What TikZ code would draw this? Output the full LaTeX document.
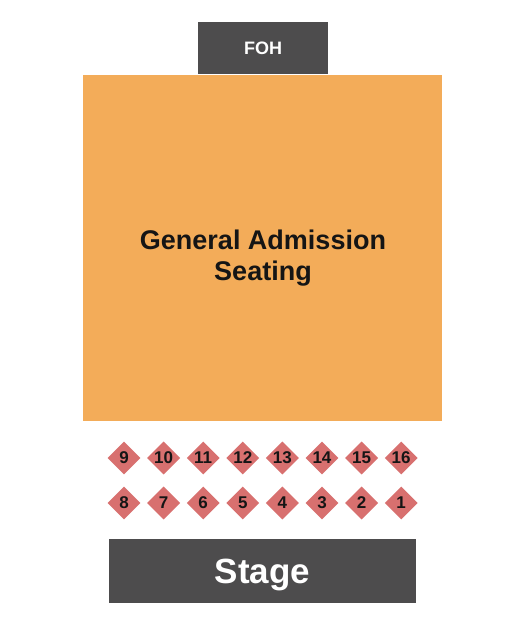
\documentclass[tikz,border=0pt]{standalone}
\usepackage{fontspec}
\setmainfont{Liberation Sans}[BoldFont={Liberation Sans Bold}]
\usetikzlibrary{shapes.geometric}
\definecolor{gaorange}{HTML}{F3AC59}
\definecolor{darkbox}{HTML}{4D4C4D}
\definecolor{seatred}{HTML}{D8706F}
\definecolor{txt}{HTML}{151515}
\tikzset{
  darkrect/.style={fill=darkbox, draw=none, text=white, font=\bfseries, inner sep=0pt},
  seat/.style={diamond, fill=seatred, draw=none, minimum width=33pt, minimum height=33pt, inner sep=0pt, text=txt, font=\fontsize{17}{17}\selectfont\bfseries},
}
\begin{document}
\begin{tikzpicture}[x=1pt,y=-1pt]
\useasboundingbox (0,0) rectangle (525,625);
\fill[white] (0,0) rectangle (525,625);
% FOH
\node[darkrect, minimum width=130pt, minimum height=52pt, text height=13pt, text depth=0pt, font=\fontsize{18}{18}\selectfont\bfseries] (foh) at (263,48) {FOH};
% GA
\node[fill=gaorange, minimum width=359pt, minimum height=346pt, inner sep=0pt] (ga) at (262.5,247.5) {};
\node[align=center, text=txt, inner sep=0pt, font=\fontsize{27}{31}\selectfont\bfseries] (galabel) at (263,258.5) {General Admission\\Seating};
% seats
\foreach \n/\x in {9/124,10/163.6,11/203.2,12/242.8,13/282.4,14/322,15/361.6,16/401.2}{
  \node[seat] (s\n) at (\x,458) {\n};
}
\foreach \n/\x in {8/124,7/163.6,6/203.2,5/242.8,4/282.4,3/322,2/361.6,1/401.2}{
  \node[seat] (s\n) at (\x,503) {\n};
}
% Stage
\node[darkrect, minimum width=307pt, minimum height=64pt, text height=25pt, text depth=0pt, font=\fontsize{35}{35}\selectfont\bfseries] (stage) at (262.5,571) {Stage};
\end{tikzpicture}
\end{document}
